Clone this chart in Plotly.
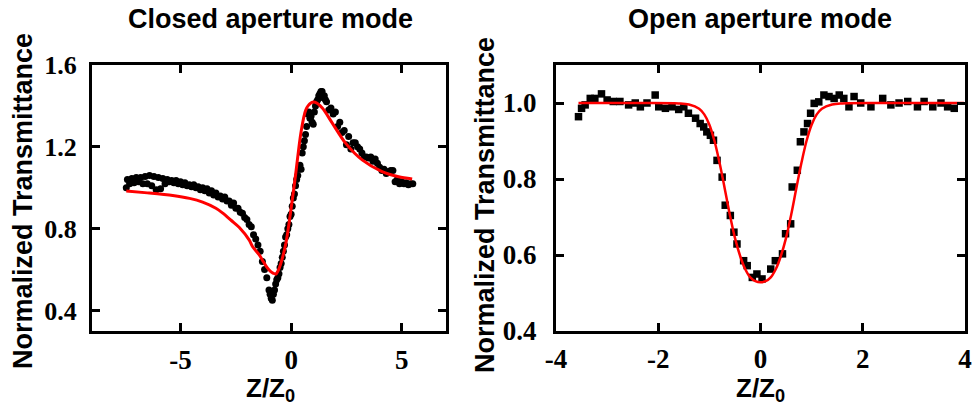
import plotly.graph_objects as go

# ---------------- data ----------------
# Closed aperture mode: two overlapping scans (Z/Z0, normalized T)
closed_z_scan1 = [-7.4, -7.2, -7.0, -6.8, -6.6, -6.4, -6.2, -6.0, -5.8, -5.6, -5.4, -5.2, -5.0, -4.8,
                  -4.6, -4.4, -4.2, -4.0, -3.8, -3.6, -3.4, -3.2, -3.0, -2.8, -2.6, -2.4, -2.2, -2.0,
                  -1.8, -1.6, -1.4, -1.2, -1.0, -0.9, -0.8, -0.7, -0.6, -0.5, -0.4, -0.3, -0.2, -0.1,
                  0.0, 0.1, 0.2, 0.3, 0.4, 0.5, 0.6, 0.7, 0.8, 0.9, 1.0, 1.1, 1.2, 1.3, 1.4, 1.5, 1.6,
                  1.8, 2.0, 2.2, 2.4, 2.6, 2.8, 3.0, 3.2, 3.4, 3.6, 3.8, 4.0, 4.2, 4.4, 4.6, 4.8, 5.0,
                  5.2, 5.4]
closed_t_scan1 = [1.04, 1.045, 1.05, 1.05, 1.055, 1.06, 1.055, 1.05, 1.045, 1.04, 1.035, 1.035, 1.03, 1.025,
                  1.015, 1.015, 1.005, 1.0, 0.995, 0.985, 0.975, 0.96, 0.955, 0.935, 0.925, 0.90, 0.875, 0.845,
                  0.81, 0.75, 0.69, 0.60, 0.50, 0.46, 0.48, 0.53, 0.56, 0.61, 0.66, 0.72, 0.77, 0.82,
                  0.87, 0.95, 1.01, 1.06, 1.11, 1.17, 1.23, 1.30, 1.37, 1.35, 1.31, 1.40, 1.43, 1.46, 1.47, 1.45, 1.42,
                  1.39, 1.37, 1.32, 1.28, 1.25, 1.22, 1.20, 1.17, 1.15, 1.15, 1.14, 1.10, 1.09, 1.08, 1.085, 1.04, 1.03,
                  1.025, 1.02]
closed_z_scan2 = [-7.45, -7.3, -7.1, -6.9, -6.7, -6.5, -6.3, -6.1, -5.9, -5.7, -5.5, -5.3, -5.1, -4.9,
                  -4.7, -4.5, -4.3, -4.1, -3.9, -3.7, -3.5, -3.3, -3.1, -2.9, -2.7, -2.5, -2.3, -2.1,
                  -1.9, -1.7, -1.5, -1.3, -1.1, -0.95, -0.85, -0.75, -0.65, -0.55, -0.45, -0.35, -0.25,
                  -0.15, -0.05, 0.05, 0.15, 0.25, 0.35, 0.45, 0.55, 0.65, 0.75, 0.85, 0.95, 1.05, 1.15,
                  1.25, 1.35, 1.45, 1.55, 1.7, 1.9, 2.1, 2.3, 2.5, 2.7, 2.9, 3.1, 3.3, 3.5, 3.7, 3.9,
                  4.1, 4.3, 4.5, 4.7, 4.9, 5.1, 5.3, 5.5]
closed_t_scan2 = [1.00, 1.02, 1.025, 1.03, 1.02, 1.02, 1.01, 0.99, 0.995, 1.02, 1.03, 1.025, 1.02, 1.015,
                  1.01, 1.005, 1.0, 0.99, 0.985, 0.975, 0.965, 0.955, 0.945, 0.935, 0.915, 0.90, 0.88, 0.855,
                  0.82, 0.77, 0.72, 0.64, 0.56, 0.48, 0.45, 0.50, 0.55, 0.58, 0.63, 0.69, 0.76,
                  0.80, 0.86, 0.91, 0.97, 1.04, 1.09, 1.09, 1.20, 1.26, 1.36, 1.34, 1.32, 1.37, 1.42,
                  1.45, 1.47, 1.44, 1.43, 1.38, 1.36, 1.30, 1.27, 1.21, 1.19, 1.22, 1.19, 1.15, 1.145, 1.13, 1.12,
                  1.085, 1.07, 1.085, 1.03, 1.02, 1.02, 1.015, 1.02]
closed_fit_z = [-7.45, -6.5, -5.35, -4.59, -4.0, -3.4, -3.09, -2.7, -2.34, -1.89, -1.74, -1.44, -1.29,
                -1.1, -0.92, -0.8, -0.69, -0.6, -0.47, -0.24, -0.01, 0.21, 0.44, 0.66, 0.89, 1.08, 1.41, 1.86,
                2.46, 3.21, 4.11, 4.86, 5.47]
closed_fit_t = [0.984, 0.975, 0.962, 0.948, 0.930, 0.900, 0.876, 0.840, 0.806, 0.744, 0.712, 0.672, 0.645,
                0.612, 0.590, 0.582, 0.578, 0.592, 0.629, 0.727, 0.891, 1.071, 1.267, 1.380, 1.414, 1.418, 1.390,
                1.316, 1.218, 1.136, 1.079, 1.054, 1.043]

# Open aperture mode
open_z = [-3.56, -3.50, -3.43, -3.33, -3.24, -3.11, -3.00, -2.88, -2.75, -2.58, -2.45, -2.35, -2.22,
          -2.06, -1.99, -1.86, -1.73, -1.60, -1.50, -1.41, -1.27, -1.18, -1.11, -1.05, -0.98, -0.92,
          -0.85, -0.75, -0.69, -0.59, -0.52, -0.46, -0.33, -0.26, -0.16, -0.07, 0.03, 0.20, 0.29,
          0.43, 0.49, 0.59, 0.62, 0.72, 0.78, 0.85, 0.92, 0.98, 1.05, 1.14, 1.24, 1.34, 1.44, 1.54,
          1.63, 1.73, 1.83, 1.96, 2.16, 2.39, 2.55, 2.71, 2.88, 3.07, 3.20, 3.37, 3.53, 3.66, 3.79]
open_t = [0.964, 0.986, 0.995, 1.012, 1.012, 1.024, 1.008, 1.004, 1.004, 0.995, 1.0, 0.99, 1.0,
          1.021, 0.99, 0.986, 0.99, 0.983, 0.99, 0.973, 0.96, 0.946, 0.937, 0.924, 0.915, 0.902,
          0.849, 0.805, 0.731, 0.704, 0.66, 0.629, 0.585, 0.572, 0.541, 0.55, 0.537, 0.563, 0.585,
          0.603, 0.656, 0.682, 0.779, 0.823, 0.898, 0.924, 0.946, 0.973, 0.999, 1.003, 1.021, 1.017, 1.012, 1.021,
          1.012, 0.99, 1.017, 1.0, 0.99, 1.012, 0.995, 1.0, 1.004, 0.99, 1.004, 0.99, 1.0, 0.99, 0.986]
open_fit_z = [-3.56, -2.5, -1.6, -1.4, -1.2, -1.1, -1.0, -0.9, -0.8, -0.7, -0.6, -0.5, -0.4, -0.3, -0.2,
              -0.1, 0.0, 0.1, 0.2, 0.3, 0.4, 0.5, 0.6, 0.7, 0.8, 0.9, 1.0, 1.1, 1.2, 1.4, 1.6, 2.5, 3.98]
open_fit_t = [1.0, 1.0, 0.999, 0.996, 0.985, 0.970, 0.943, 0.900, 0.842, 0.775, 0.706, 0.645, 0.598, 0.563,
              0.541, 0.531, 0.528, 0.531, 0.541, 0.563, 0.598, 0.645, 0.706, 0.775, 0.842, 0.900, 0.943,
              0.970, 0.985, 0.996, 0.999, 1.0, 1.0]

closed_xticks = [-5, 0, 5]
closed_xticklabels = ["-5", "0", "5"]
closed_yticks = [0.4, 0.8, 1.2, 1.6]
closed_yticklabels = ["0.4", "0.8", "1.2", "1.6"]
open_xticks = [-4, -2, 0, 2, 4]
open_xticklabels = ["-4", "-2", "0", "2", "4"]
open_yticks = [0.4, 0.6, 0.8, 1.0]
open_yticklabels = ["0.4", "0.6", "0.8", "1.0"]

titles = ["Closed aperture mode", "Open aperture mode"]
ytitle = "Normalized Transmittance"
xtitle = "Z/Z<sub>0</sub>"


def bold(labels):
    return ["<b>" + t + "</b>" for t in labels]


# ---------------- figure ----------------
W, H = 972, 409
fig = go.Figure()

fig.add_trace(go.Scatter(x=closed_z_scan1 + closed_z_scan2, y=closed_t_scan1 + closed_t_scan2,
                         mode="markers", marker=dict(symbol="circle", size=7, color="black"),
                         xaxis="x", yaxis="y", showlegend=False))
fig.add_trace(go.Scatter(x=closed_fit_z, y=closed_fit_t, mode="lines", line_shape="spline",
                         line=dict(color="#ff0000", width=3, smoothing=0.8), xaxis="x", yaxis="y",
                         showlegend=False))
fig.add_trace(go.Scatter(x=open_z, y=open_t, mode="markers",
                         marker=dict(symbol="square", size=7.5, color="black"),
                         xaxis="x2", yaxis="y2", showlegend=False))
fig.add_trace(go.Scatter(x=open_fit_z, y=open_fit_t, mode="lines", line_shape="spline",
                         line=dict(color="#ff0000", width=2.5), xaxis="x2", yaxis="y2", showlegend=False))

serif = "'Liberation Serif', 'Times New Roman', Times, serif"
sans = "'Liberation Sans', Arial, sans-serif"

common = dict(showline=True, linewidth=3, linecolor="black", mirror="allticks", ticks="inside",
              ticklen=8, tickwidth=3, tickcolor="black", showgrid=False, zeroline=False,
              automargin=False, tickmode="array")

ydom = [78 / H, 344 / H]
fig.update_layout(
    template="none",
    width=W, height=H, margin=dict(l=0, r=0, t=0, b=0, pad=0),
    paper_bgcolor="white", plot_bgcolor="white",
    xaxis=dict(domain=[92 / W, 446 / W], range=[-9, 7], tickvals=closed_xticks,
               ticktext=bold(closed_xticklabels),
               tickfont=dict(family=serif, size=27, color="black"),
               ticklabelstandoff=3, anchor="y", **common),
    yaxis=dict(domain=ydom, range=[0.3, 1.6], tickvals=closed_yticks, ticktext=bold(closed_yticklabels),
               tickfont=dict(family=serif, size=26, color="black"),
               ticklabelstandoff=7, anchor="x", **common),
    xaxis2=dict(domain=[556 / W, 965 / W], range=[-4, 4], tickvals=open_xticks,
                ticktext=bold(open_xticklabels),
                tickfont=dict(family=serif, size=27, color="black"),
                ticklabelstandoff=2, anchor="y2", **common),
    yaxis2=dict(domain=ydom, range=[0.4, 1.1], tickvals=open_yticks, ticktext=bold(open_yticklabels),
                tickfont=dict(family=serif, size=27, color="black"),
                ticklabelstandoff=11, anchor="x2", **common),
)

anns = [
    dict(text=titles[0], x=270 / W, y=1 - 19 / H, size=27),
    dict(text=titles[1], x=760 / W, y=1 - 19 / H, size=27),
    dict(text=ytitle, x=23 / W, y=1 - 201 / H, size=27, textangle=-90),
    dict(text=ytitle, x=485 / W, y=1 - 205 / H, size=27, textangle=-90),
    dict(text=xtitle, x=270 / W, y=1 - 389 / H, size=26),
    dict(text=xtitle, x=760 / W, y=1 - 389 / H, size=26),
]
for a in anns:
    fig.add_annotation(xref="paper", yref="paper", showarrow=False, xanchor="center", yanchor="middle",
                       text="<b>" + a["text"] + "</b>", x=a["x"], y=a["y"],
                       textangle=a.get("textangle", 0),
                       font=dict(family=sans, size=a["size"], color="black"))

fig.write_html("out.html")
